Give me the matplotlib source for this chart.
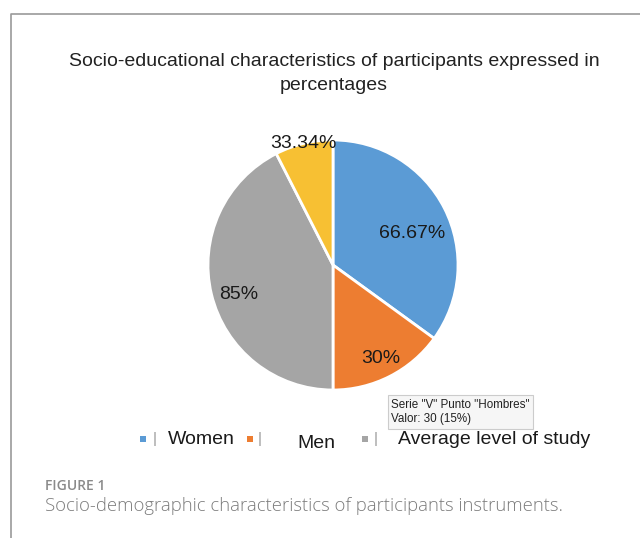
import numpy as np
import matplotlib.pyplot as plt
from matplotlib.lines import Line2D
from matplotlib.patches import Rectangle

# data (slice sizes as drawn, labels as printed)
categories = ["Women", "Men", "Average level of study", "Other"]
values = [70, 30, 85, 15]
value_labels = ["66.67%", "30%", "85%", "33.34%"]
colors = ["#5B9BD5", "#ED7D31", "#A5A5A5", "#F7C033"]
legend_names = ["Women", "Men", "Average level of study"]

W, H = 640, 538
fig = plt.figure(figsize=(W / 100, H / 100), dpi=100)
plt.rcParams['font.family'] = ['Liberation Sans', 'DejaVu Sans']

def fx(px):
    return px / W

def fy(py):
    return 1 - py / H

# frame of the chart box
fig.add_artist(Line2D([fx(11), fx(11), fx(640)], [fy(538), fy(14), fy(14)],
                      color="#9a9a9a", lw=1.2, transform=fig.transFigure))

# title
fig.text(fx(334), fy(61), "Socio-educational characteristics of participants expressed in",
         ha="center", va="center", fontsize=14, color="#222222")
fig.text(fx(334), fy(85), "percentages", ha="center", va="center",
         fontsize=14, color="#222222")

# pie
cx, cy, r = 333, 265, 125
ax = fig.add_axes([fx(cx - r), fy(cy + r), 2 * r / W, 2 * r / H])
wedges, _ = ax.pie(values, colors=colors, startangle=90, counterclock=False,
                   wedgeprops=dict(edgecolor="white", linewidth=2))
ax.set_xlim(-1, 1)
ax.set_ylim(-1, 1)
ax.set_aspect("equal")
ax.axis("off")

dists = [0.68, 0.84, 0.79, 1.0]
shifts = [-5, 0, 4, 0]
for w, lab, d, s in zip(wedges, value_labels, dists, shifts):
    ang = np.deg2rad((w.theta1 + w.theta2) / 2 + s)
    ax.text(d * np.cos(ang), d * np.sin(ang), lab, ha="center", va="center",
            fontsize=14, color="#1a1a1a", clip_on=False)

# legend (drawn by hand to keep the odd spacing)
leg_x = [(143, 155, 168), (250, 260, 297), (365, 376, 398)]
for (mx, bx, tx), name, col in zip(leg_x, legend_names, colors):
    fig.add_artist(Rectangle((fx(mx - 3), fy(442)), fx(6), 6 / H,
                             facecolor=col, edgecolor="none", transform=fig.transFigure))
    fig.text(fx(bx), fy(439), "|", ha="center", va="center", fontsize=11, color="#999999")
    yy = 443 if name == "Men" else 440
    fig.text(fx(tx), fy(yy), name, ha="left", va="center", fontsize=14, color="#1a1a1a")

# tooltip left in the screenshot
fig.text(fx(391), fy(412), 'Serie "V" Punto "Hombres"\nValor: 30 (15%)', ha="left", va="center",
         fontsize=8.4, color="#222222", linespacing=1.3,
         bbox=dict(boxstyle="square,pad=0.3", facecolor="#f6f6f6", edgecolor="#cccccc", lw=0.8))

# caption
fig.text(fx(45), fy(486), "FIGURE 1", ha="left", va="center", fontsize=10,
         color="#8a8a8a", family=["Open Sans", "DejaVu Sans"], fontweight="semibold")
fig.text(fx(45), fy(506), "Socio-demographic characteristics of participants instruments.",
         ha="left", va="center", fontsize=13.3, color="#7c7c7c",
         family=["Open Sans", "DejaVu Sans"], fontweight="light")

fig.savefig("out.png", dpi=100)
